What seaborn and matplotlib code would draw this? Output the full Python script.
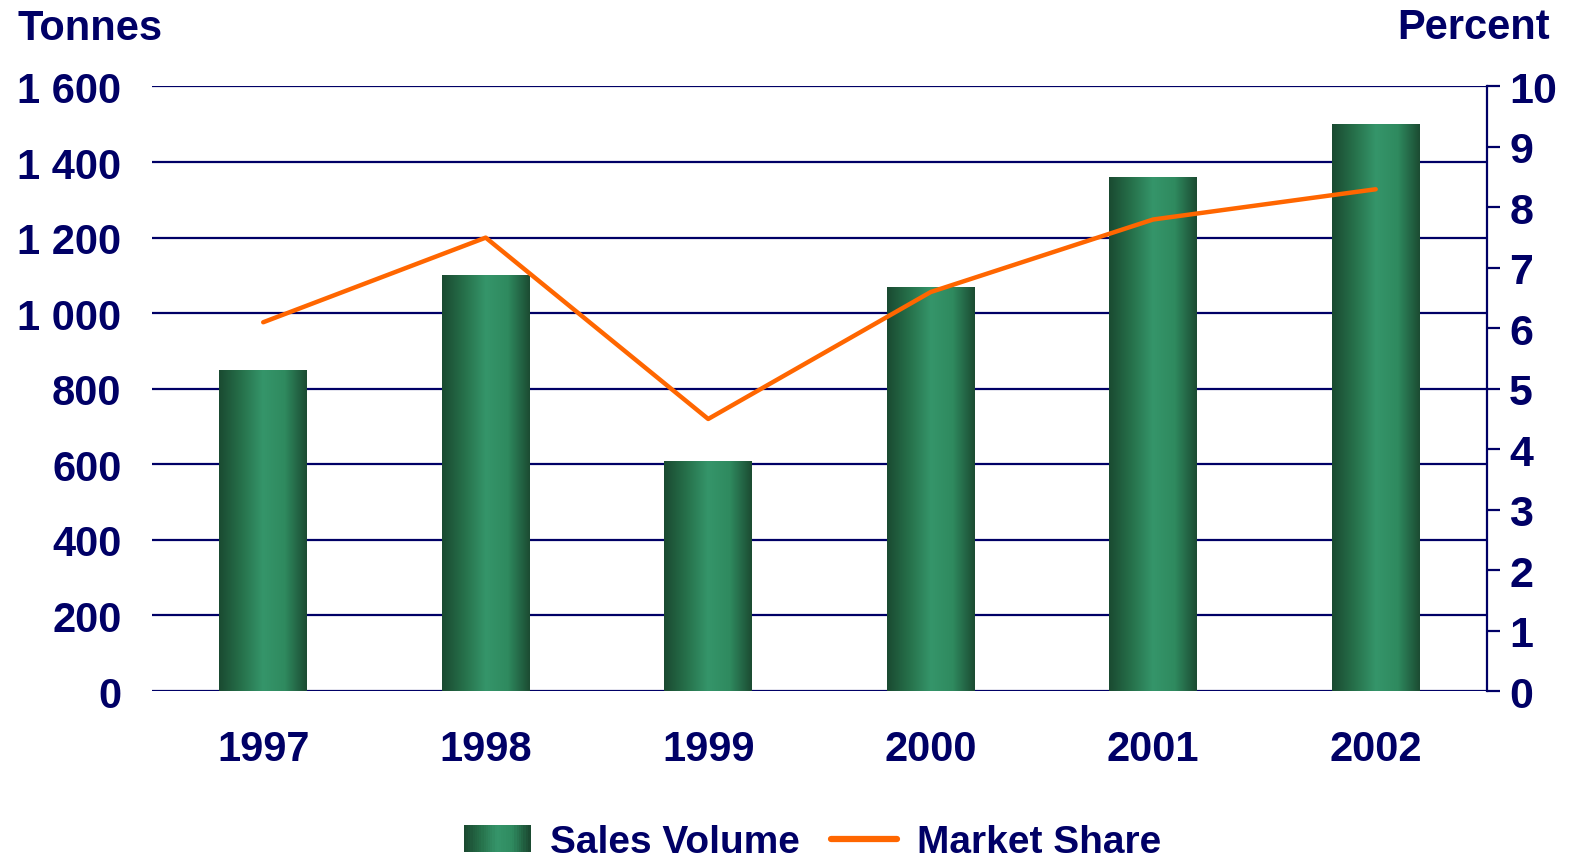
import numpy as np
import pandas as pd
import seaborn as sns
import matplotlib.pyplot as plt
from matplotlib.colors import LinearSegmentedColormap
from matplotlib.patches import Rectangle, Patch
from matplotlib.legend_handler import HandlerBase
from matplotlib.lines import Line2D

# chart data
years = ['1997', '1998', '1999', '2000', '2001', '2002']
sales_volume = [850, 1100, 610, 1070, 1360, 1500]
market_share = [6.1, 7.5, 4.5, 6.6, 7.8, 8.3]

navy = '#000066'
orange = '#ff6600'
bar_cmap = LinearSegmentedColormap.from_list(
    'cyl', ['#1a4a31', '#26704a', '#35956a', '#2f8a5f', '#1b4b32'])

sns.set_style('white')
plt.rcParams['font.family'] = ['Liberation Sans', 'DejaVu Sans']
plt.rcParams['font.weight'] = 'bold'

df = pd.DataFrame({'Year': years, 'Sales': sales_volume})

fig = plt.figure(figsize=(15.78, 8.62), dpi=100)
ax = fig.add_axes([0.0963, 0.1972, 0.846, 0.7013])

sns.barplot(data=df, x='Year', y='Sales', ax=ax, width=0.395,
            color='#2e8b5e', saturation=1, zorder=3)

# cylinder-like horizontal shading on each bar
grad = np.linspace(0, 1, 256).reshape(1, -1)
for p in ax.patches:
    x0, y0 = p.get_x(), p.get_y()
    w, h = p.get_width(), p.get_height()
    im = ax.imshow(grad, cmap=bar_cmap, aspect='auto',
                   extent=(x0, x0 + w, y0, y0 + h), zorder=3)
    im.set_clip_path(p)
    p.set_facecolor('none')
    p.set_edgecolor('none')

ax.set_xlim(-0.5, len(years) - 0.5)
ax.set_ylim(0, 1600)
ax.set_yticks(range(0, 1601, 200))
ax.set_yticklabels([f'{v:,}'.replace(',', ' ') for v in range(0, 1601, 200)])
ax.yaxis.grid(True, color=navy, linewidth=1.6, zorder=1)
ax.set_axisbelow(True)
ax.tick_params(axis='y', length=0, pad=22, labelsize=30, labelcolor=navy)
ax.tick_params(axis='x', length=0, pad=27, labelsize=30, labelcolor=navy)
ax.set_xlabel('')
ax.set_ylabel('')
for s in ['left', 'top', 'bottom', 'right']:
    ax.spines[s].set_visible(False)

ax2 = ax.twinx()
sns.lineplot(x=np.arange(len(years)), y=market_share, ax=ax2,
             color=orange, linewidth=3.2, zorder=5)
ax2.set_ylim(0, 10)
ax2.set_yticks(range(0, 11))
ax2.tick_params(axis='y', length=9, width=1.6, color=navy, pad=7,
                labelsize=31, labelcolor=navy)
for s in ['left', 'top', 'bottom']:
    ax2.spines[s].set_visible(False)
ax2.spines['right'].set_color(navy)
ax2.spines['right'].set_linewidth(1.6)
ax2.set_ylabel('')

fig.text(0.011, 0.966, 'Tonnes', fontsize=30, color=navy, fontweight='bold',
         ha='left', va='center')
fig.text(0.982, 0.968, 'Percent', fontsize=30, color=navy, fontweight='bold',
         ha='right', va='center')


class GradientHandler(HandlerBase):
    def create_artists(self, legend, orig_handle, xdescent, ydescent,
                       width, height, fontsize, trans):
        n = 30
        arts = []
        for i in range(n):
            c = bar_cmap(i / (n - 1))
            r = Rectangle((xdescent + width * i / n - 0.5, -ydescent),
                          width / n + 1, height, facecolor=c,
                          edgecolor='none', transform=trans)
            arts.append(r)
        return arts


bar_handle = Patch(facecolor='#2e8b5e')
line_handle = Line2D([0], [0], color=orange, linewidth=4.5)
leg = fig.legend([bar_handle, line_handle], ['Sales Volume', 'Market Share'],
                 handler_map={Patch: GradientHandler()},
                 loc='lower center', bbox_to_anchor=(0.515, -0.04), ncol=2,
                 frameon=False, fontsize=28, handlelength=1.7,
                 handletextpad=0.5, columnspacing=0.8)
for t in leg.get_texts():
    t.set_color(navy)
    t.set_fontweight('bold')

fig.savefig('out.png', dpi=100)
